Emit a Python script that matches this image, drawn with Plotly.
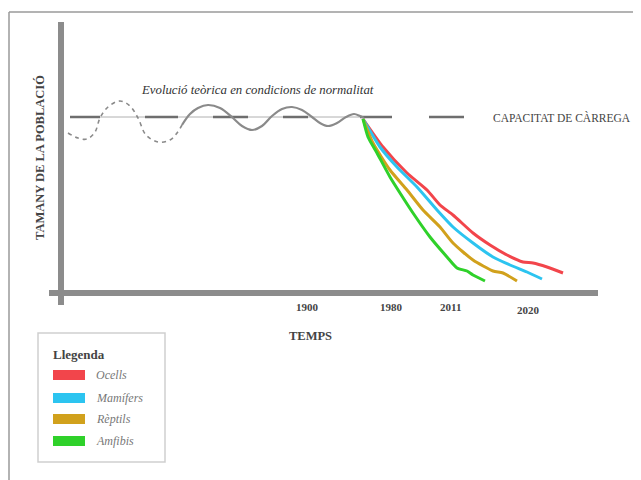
import plotly.graph_objects as go

# ---- data (schematic units: x = time, y = population size) ----
cap_level = 176
cap_thin_x = [11, 331]
cap_dash_starts = [9, 84, 152, 222, 299, 368]
cap_dash_ends = [39, 117, 187, 247, 331, 403]

theory_dash_x = [7, 17, 26, 34, 39, 47, 59, 69, 77, 85, 97, 109, 116, 121]
theory_dash_y = [160, 155, 154, 161, 175, 186, 192, 187, 175, 158, 151, 153, 160, 168]

theory_x = [121, 129, 137, 147, 159, 172, 181, 191, 201, 211, 221, 231, 241, 251, 259, 267, 276, 285, 293, 299, 303]
theory_y = [168, 179, 185, 188, 185, 175, 167, 163, 167, 177, 184, 186, 183, 176, 170, 167, 170, 176, 179, 177, 175]

species = ["Ocells", "Mamífers", "Rèptils", "Amfibis"]
colors = ["#f2454b", "#2cc4f0", "#d1a11c", "#2fd12a"]
decl_x = {
    "Ocells":   [302, 322, 346, 366, 379, 392, 412, 429, 446, 462, 472, 486, 502],
    "Mamífers": [302, 319, 336, 356, 376, 392, 412, 432, 449, 466, 481],
    "Rèptils":  [302, 312, 329, 346, 362, 379, 392, 412, 432, 442, 456],
    "Amfibis":  [302, 307, 316, 329, 339, 352, 369, 386, 396, 406, 412, 424],
}
decl_y = {
    "Ocells":   [174, 146, 120, 103, 88, 78, 60, 48, 38, 31, 30, 26, 20],
    "Mamífers": [174, 146, 126, 106, 83, 66, 50, 36, 28, 21, 14],
    "Rèptils":  [174, 150, 123, 103, 83, 66, 50, 33, 22, 20, 12],
    "Amfibis":  [174, 156, 140, 116, 100, 80, 56, 36, 25, 22, 18, 12],
}

tick_labels = ["1900", "1980", "2011", "2020"]
tick_x = [246, 330, 389, 467]
tick_y = [-14, -14, -14, -17]

# page body has an 8px margin: figure is shrunk and shifted accordingly
OFF = 8
W, H = 641 - OFF, 480 - OFF
X0, Y0 = 61, 293  # pixel position (in the page) of the origin


def px(x):
    return x - X0


def py(y):
    return Y0 - y


FONT = "Liberation Serif, Times New Roman, DejaVu Serif, serif"
fig = go.Figure()

# capacity line
fig.add_trace(go.Scatter(x=cap_thin_x, y=[cap_level] * 2, mode="lines",
                         line=dict(color="#b0b0b0", width=1), hoverinfo="skip"))
dx, dy = [], []
for s, e in zip(cap_dash_starts, cap_dash_ends):
    dx += [s, e, None]
    dy += [cap_level, cap_level, None]
fig.add_trace(go.Scatter(x=dx, y=dy, mode="lines",
                         line=dict(color="#6e6e6e", width=2.5), hoverinfo="skip"))

fig.add_trace(go.Scatter(x=theory_dash_x, y=theory_dash_y, mode="lines",
                         line=dict(color="#8a8a8a", width=1.6, dash="4px,4px", shape="spline"),
                         hoverinfo="skip"))
fig.add_trace(go.Scatter(x=theory_x, y=theory_y, mode="lines",
                         line=dict(color="#8a8a8a", width=2.2, shape="spline"), hoverinfo="skip"))

for sp, c in zip(species, colors):
    fig.add_trace(go.Scatter(x=decl_x[sp], y=decl_y[sp], mode="lines", name=sp,
                             line=dict(color=c, width=3, shape="spline", smoothing=0.6),
                             hoverinfo="skip"))

shapes = [
    # axes
    dict(type="line", x0=px(49), x1=px(598), y0=0, y1=0, line=dict(color="#8c8c8c", width=6)),
    dict(type="line", x0=0, x1=0, y0=py(305), y1=py(22), line=dict(color="#8c8c8c", width=6)),
    # frame
    dict(type="line", x0=px(9), x1=px(641), y0=py(12), y1=py(12), line=dict(color="#9a9a9a", width=1.5)),
    dict(type="line", x0=px(9), x1=px(9), y0=py(12), y1=py(480), line=dict(color="#9a9a9a", width=1.5)),
    # legend box
    dict(type="rect", x0=px(38), x1=px(165), y0=py(333), y1=py(462),
         line=dict(color="#cfcfcf", width=1.5), fillcolor="white"),
]
sw_y = [375, 398, 419, 441]
for c, yy in zip(colors, sw_y):
    shapes.append(dict(type="rect", x0=px(53), x1=px(85), y0=py(yy - 5), y1=py(yy + 5),
                       line=dict(width=0), fillcolor=c))

ann = []
ann.append(dict(x=px(257), y=py(90), text="<i>Evolució teòrica en condicions de normalitat</i>",
                showarrow=False, font=dict(family=FONT, size=12.8, color="#333")))
ann.append(dict(x=px(491), y=py(117), text="CAPACITAT DE CÀRREGA", xanchor="left",
                showarrow=False, font=dict(family=FONT, size=11.5, color="#444")))
ann.append(dict(x=px(40), y=py(158), text="<b>TAMANY DE LA POBLACIÓ</b>", textangle=-90,
                showarrow=False, font=dict(family=FONT, size=12.5, color="#444")))
ann.append(dict(x=px(310), y=py(336), text="<b>TEMPS</b>",
                showarrow=False, font=dict(family=FONT, size=12.5, color="#444")))
for t, x, y in zip(tick_labels, tick_x, tick_y):
    ann.append(dict(x=x, y=y, text="<b>" + t + "</b>", showarrow=False,
                    font=dict(family=FONT, size=11, color="#444")))
ann.append(dict(x=px(51), y=py(354), text="<b>Llegenda</b>", xanchor="left",
                showarrow=False, font=dict(family=FONT, size=13, color="#444")))
for sp, yy in zip(species, sw_y):
    ann.append(dict(x=px(94), y=py(yy), text="<i>" + sp + "</i>", xanchor="left",
                    showarrow=False, font=dict(family=FONT, size=12, color="#777")))

fig.update_layout(
    width=W, height=H, margin=dict(l=0, r=0, t=0, b=0),
    paper_bgcolor="white", plot_bgcolor="white", showlegend=False,
    xaxis=dict(range=[px(OFF), px(641)], visible=False, fixedrange=True),
    yaxis=dict(range=[py(480), py(OFF)], visible=False, fixedrange=True),
    shapes=shapes, annotations=ann,
)
fig.write_html("out.html")
